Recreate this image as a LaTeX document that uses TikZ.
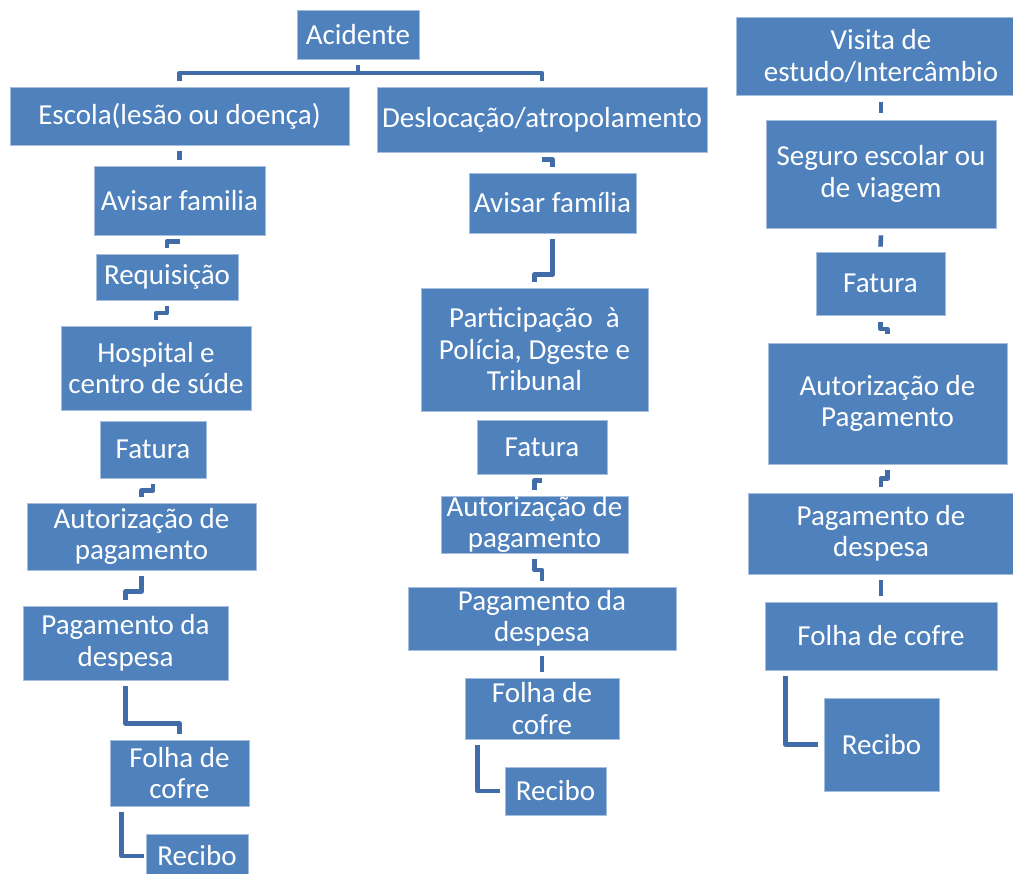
\documentclass[tikz,border=0pt]{standalone}
\usepackage{fontspec}
\setmainfont{Carlito}
\usetikzlibrary{calc}
\definecolor{boxfill}{RGB}{79,129,189}
\definecolor{boxline}{RGB}{165,190,222}
\definecolor{conncol}{RGB}{66,108,168}
\tikzset{
  box/.style={rectangle, fill=boxfill, draw=boxline, line width=0.8pt, inner sep=0pt,
    text=white, align=center, font=\fontsize{29}{31.5}\selectfont},
  conn/.style={draw=conncol, line width=4.6pt, line join=round}
}
\newcommand\mybox[6]{\node[box, minimum width=#4pt, minimum height=#5pt] (#1) at (#2,#3) {#6};}
\begin{document}
\begin{tikzpicture}[x=1pt,y=-1pt]
\useasboundingbox (0,0) rectangle (1013,874);
\fill[white] (0,0) rectangle (1013,874);
\clip (0,0) rectangle (1013,874);
% left column
\mybox{acid}{358}{34.5}{122}{49}{Acidente}
\mybox{escola}{179.5}{116}{339}{58}{Escola(lesão ou doença)}
\mybox{desl}{542}{119.5}{330}{65}{Deslocação/atropolamento}
\mybox{avisar1}{179.5}{200.5}{171}{69}{Avisar familia}
\mybox{req}{167}{277}{142}{46}{Requisição}
\mybox{hosp}{156}{368}{190}{84}{Hospital e\\centro de súde}
\mybox{fat1}{153}{449.5}{106}{57}{Fatura}
\mybox{aut1}{141.5}{536.5}{229}{67}{Autorização de\\pagamento}
\mybox{pag1}{125.5}{643}{205}{74}{Pagamento da\\despesa}
\mybox{folha1}{179.5}{773}{139}{66}{Folha de\\cofre}
\mybox{rec1}{197}{856}{102}{44}{Recibo}
% middle column
\mybox{avisar2}{552.5}{203}{167}{60}{Avisar família}
\mybox{part}{534.5}{349.5}{227}{123}{Participação~ à\\Polícia, Dgeste e\\Tribunal}
\mybox{fat2}{542}{447}{130}{54}{Fatura}
\mybox{aut2}{534.5}{524.5}{187}{57}{Autorização de\\pagamento}
\mybox{pag2}{542}{618.5}{268}{63}{Pagamento da\\despesa}
\mybox{folha2}{542}{708.5}{154}{61}{Folha de\\cofre}
\mybox{rec2}{555.5}{791}{101}{48}{Recibo}
% right column
\mybox{visita}{881}{56}{290}{78}{Visita de\\estudo/Intercâmbio}
\mybox{seguro}{881}{174}{230}{108}{Seguro escolar ou\\de viagem}
\mybox{fat3}{880.5}{283.5}{129}{63}{Fatura}
\mybox{aut3}{887.5}{403.5}{239}{121}{Autorização de\\Pagamento}
\mybox{pag3}{881}{533.5}{266}{81}{Pagamento de\\despesa}
\mybox{folha3}{881}{636}{232}{68}{Folha de cofre}
\mybox{rec3}{881.5}{744.5}{115}{93}{Recibo}
% connectors: top bracket
\coordinate (b1) at (358,73);
\draw[conn] ($(acid.south)+(0,6)$) -- (b1);
\draw[conn] ($(escola.north)+(0,-6)$) |- (b1) -| ($(desl.north)+(0,-6)$);
% left column connectors
\draw[conn] ($(escola.south)+(0,6)$) -- ($(avisar1.north)+(0,-6)$);
\draw[conn] ($(avisar1.south)+(0,6)$) -| ($(req.north)+(0,-6)$);
\draw[conn] ($(req.south)+(0,6)$) |- ($(req.south)!.5!(hosp.north)$) -| ($(hosp.north)+(0,-6)$);
\draw[conn] ($(fat1.south)+(0,6)$) |- ($(fat1.south)!.5!(aut1.north)$) -| ($(aut1.north)+(0,-6)$);
\draw[conn] ($(aut1.south)+(0,6)$) |- ($(pag1.north)+(0,-14)$) -| ($(pag1.north)+(0,-6)$);
\draw[conn] ($(pag1.south)+(0,6)$) |- ($(folha1.north)+(0,-16)$) -- ($(folha1.north)+(0,-6)$);
\draw[conn] ($(folha1.south west)+(12,6)$) |- ($(rec1.west)+(-2,0)$);
% middle column connectors
\draw[conn] ($(desl.south)+(0,7)$) -| ($(avisar2.north)+(0,-6)$);
\draw[conn] ($(avisar2.south)+(0,6)$) |- ($(part.north)+(0,-13)$) -- ($(part.north)+(0,-6)$);
\draw[conn] ($(fat2.south)+(0,6)$) -| ($(aut2.north)+(0,-6)$);
\draw[conn] ($(aut2.south)+(0,6)$) |- ($(aut2.south)!.5!(pag2.north)$) -| ($(pag2.north)+(0,-6)$);
\draw[conn] ($(pag2.south)+(0,6)$) -- ($(folha2.north)+(0,-6)$);
\draw[conn] ($(folha2.south west)+(13,6)$) |- ($(rec2.west)+(-5,0)$);
% right column connectors
\draw[conn] ($(visita.south)+(0,7)$) -- ($(seguro.north)+(0,-7)$);
\draw[conn] ($(seguro.south)+(0,7)$) -- ($(fat3.north)+(0,-5)$);
\draw[conn] ($(fat3.south)+(0,7)$) |- ($(fat3.south)!.5!(aut3.north)$) -| ($(aut3.north)+(0,-9)$);
\draw[conn] ($(aut3.south)+(0,6)$) |- ($(aut3.south)!.5!(pag3.north)$) -| ($(pag3.north)+(0,-6)$);
\draw[conn] ($(pag3.south)+(0,6)$) -- ($(folha3.north)+(0,-6)$);
\draw[conn] ($(folha3.south west)+(21,6)$) |- ($(rec3.west)+(-6,0)$);
\end{tikzpicture}
\end{document}
